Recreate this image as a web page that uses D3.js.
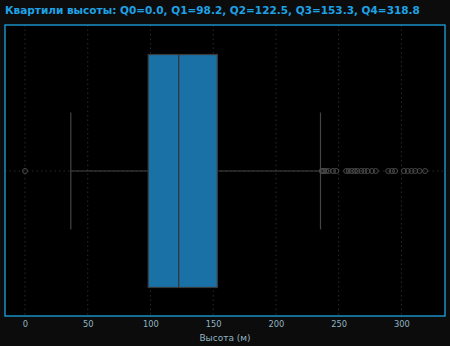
<!DOCTYPE html>
<html>
<head>
<meta charset="utf-8">
<script src="https://d3js.org/d3.v7.min.js"></script>
<style>
  body { margin: 0; background: #0c0c0c; }
  svg { display: block; }
</style>
</head>
<body>
<svg width="450" height="346"></svg>
<script>
    // quartiles of the height distribution
    const quartiles = [0.0, 98.2, 122.5, 153.3, 318.8];
    const whiskers = [36.5, 235.5];
    const outliers = [0.0, 236.5, 237.5, 238.5, 240, 242, 245.5, 248,
        256, 258, 260.5, 263, 265, 268, 270.5, 273, 276.5, 279.5,
        289.5, 292.5, 295, 302, 305, 308, 311, 314.5, 318.8];
    const xTicks = [0, 50, 100, 150, 200, 250, 300];

    const svg = d3.select("svg");
    const plotL = 5, plotR = 445, plotT = 25, plotB = 316;
    const cy = 171, boxH = 233, capH = 117;

    const pad = (quartiles[4] - quartiles[0]) * 0.05;
    const x = d3.scaleLinear()
        .domain([quartiles[0] - pad, quartiles[4] + pad])
        .range([plotL, plotR]);

    svg.append("rect")
        .attr("x", plotL).attr("y", plotT)
        .attr("width", plotR - plotL).attr("height", plotB - plotT)
        .attr("fill", "#000");

    // grid
    svg.append("g").selectAll("line")
        .data(xTicks)
        .join("line")
        .attr("x1", d => x(d)).attr("x2", d => x(d))
        .attr("y1", plotT).attr("y2", plotB)
        .attr("stroke", "#2a2a2a")
        .attr("stroke-dasharray", "1.5,3");
    svg.append("line")
        .attr("x1", plotL).attr("x2", plotR)
        .attr("y1", cy).attr("y2", cy)
        .attr("stroke", "#2a2a2a")
        .attr("stroke-dasharray", "1.5,3");

    const g = svg.append("g");
    const wc = "#444";

    // whiskers
    g.append("line")
        .attr("x1", x(whiskers[0])).attr("x2", x(quartiles[1]))
        .attr("y1", cy).attr("y2", cy).attr("stroke", wc).attr("stroke-width", 1.2);
    g.append("line")
        .attr("x1", x(quartiles[3])).attr("x2", x(whiskers[1]))
        .attr("y1", cy).attr("y2", cy).attr("stroke", wc).attr("stroke-width", 1.2);
    g.selectAll(".cap")
        .data(whiskers)
        .join("line")
        .attr("class", "cap")
        .attr("x1", d => x(d)).attr("x2", d => x(d))
        .attr("y1", cy - capH / 2).attr("y2", cy + capH / 2)
        .attr("stroke", wc).attr("stroke-width", 1.2);

    // box
    g.append("rect")
        .attr("x", x(quartiles[1])).attr("y", cy - boxH / 2)
        .attr("width", x(quartiles[3]) - x(quartiles[1]))
        .attr("height", boxH)
        .attr("fill", "#1a71a6")
        .attr("stroke", "#3a3a3a").attr("stroke-width", 1.2);
    g.append("line")
        .attr("x1", x(quartiles[2])).attr("x2", x(quartiles[2]))
        .attr("y1", cy - boxH / 2).attr("y2", cy + boxH / 2)
        .attr("stroke", "#333").attr("stroke-width", 1.2);

    // outliers
    g.selectAll(".flier")
        .data(outliers)
        .join("circle")
        .attr("class", "flier")
        .attr("cx", d => x(d)).attr("cy", cy)
        .attr("r", 2.5)
        .attr("fill", "none")
        .attr("stroke", "#4a4a4a").attr("stroke-width", 1);

    // frame
    svg.append("rect")
        .attr("x", plotL).attr("y", plotT)
        .attr("width", plotR - plotL).attr("height", plotB - plotT)
        .attr("fill", "none")
        .attr("stroke", "#1ea4e2").attr("stroke-width", 1.3);

    // x axis
    const axis = svg.append("g")
        .attr("transform", `translate(0,${plotB})`)
        .call(d3.axisBottom(x).tickValues(xTicks).tickSize(0).tickPadding(5));
    axis.select(".domain").remove();
    axis.selectAll("text")
        .attr("fill", "#8fb3c2")
        .style("font-family", "DejaVu Sans")
        .style("font-size", "8.3px");

    svg.append("text")
        .attr("x", (plotL + plotR) / 2).attr("y", 341)
        .attr("text-anchor", "middle")
        .attr("fill", "#8fb3c2")
        .style("font-family", "DejaVu Sans")
        .style("font-size", "9px")
        .text("Высота (м)");

    const title = svg.append("text")
        .attr("x", 5).attr("y", 14)
        .attr("fill", "#1ea2e6")
        .style("font-family", "DejaVu Sans")
        .style("font-weight", "bold")
        .style("font-size", "11px")
        .text(`Квартили высоты: Q0=${quartiles[0].toFixed(1)}, Q1=${quartiles[1].toFixed(1)}, Q2=${quartiles[2].toFixed(1)}, Q3=${quartiles[3].toFixed(1)}, Q4=${quartiles[4].toFixed(1)}`);
    // fit title to the width seen in the reference
    const tw = title.node().getComputedTextLength();
    title.style("font-size", (11 * 415 / tw).toFixed(2) + "px");
</script>
</body>
</html>
